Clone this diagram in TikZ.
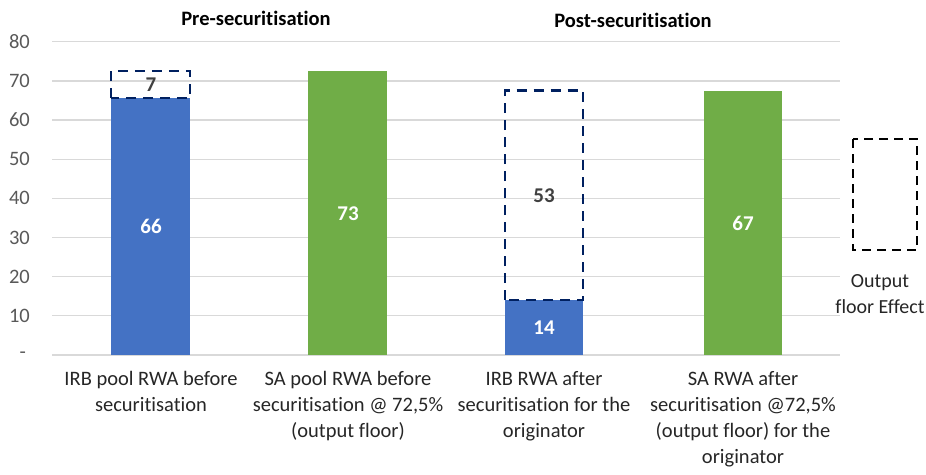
\documentclass[tikz,border=0pt]{standalone}
\usepackage{fontspec}
\setmainfont{Carlito}[RawFeature={-liga}]
\definecolor{barblue}{HTML}{4472C4}
\definecolor{bargreen}{HTML}{70AD47}
\definecolor{navy}{HTML}{002060}
\definecolor{gridgray}{HTML}{D9D9D9}
\definecolor{ticktext}{HTML}{595959}
\definecolor{valtext}{HTML}{404040}
\begin{document}
\begin{tikzpicture}[x=1pt,y=-1pt,
  grid/.style={gridgray,line width=1.3pt},
  ticklab/.style={anchor=east,text=ticktext,font=\fontsize{20.5}{20.5}\selectfont,inner sep=0pt},
  catlab/.style={align=center,text=black!85,font=\fontsize{20.5}{26}\selectfont,anchor=north,inner sep=0pt},
  heading/.style={font=\bfseries\fontsize{20.5}{22}\selectfont,inner sep=0pt},
  inbar/.style={text=white,font=\bfseries\fontsize{21}{21}\selectfont,inner sep=0pt},
  boxval/.style={text=valtext,font=\bfseries\fontsize{21}{21}\selectfont,inner sep=0pt},
  floorbox/.style={navy,line width=2.6pt,dash pattern=on 10pt off 7pt},
  legendbox/.style={black,line width=2.6pt,dash pattern=on 9pt off 6pt}]
\useasboundingbox (0,0) rectangle (926,474);
% value v sits at y = 355 - 3.916 v
\def\yv#1{355-3.916*#1}
% horizontal gridlines and tick labels
\foreach \v/\t in {10/10,20/20,30/30,40/40,50/50,60/60,70/70,80/80}{
  \draw[grid] (52,{\yv{\v}}) -- (840,{\yv{\v}});
  \node[ticklab] (tick\v) at (30,{\yv{\v}}) {\t};
}
\draw[grid] (52,355) -- (840,355);
\node[ticklab] (tick0) at (26,355) {-};
% bars
\fill[barblue] (111,{\yv{65.6}}) rectangle (190,355);
\fill[bargreen] (308,{\yv{72.5}}) rectangle (387,355);
\fill[barblue] (505,{\yv{14}}) rectangle (583,355);
\fill[bargreen] (704,{\yv{67.3}}) rectangle (782,355);
% output floor add-ons
\draw[floorbox] (111,{\yv{65.6}}) rectangle (190,{\yv{72.5}});
\draw[floorbox] (505,{\yv{14}}) rectangle (583,{\yv{67.5}});
% values
\node[inbar] (v1) at (151,{\yv{32.8}}) {66};
\node[inbar] (v2) at (348,{\yv{36.2}}) {73};
\node[inbar] (v3) at (544,{\yv{7}}) {14};
\node[inbar] (v4) at (743,{\yv{33.6}}) {67};
\node[boxval] (d1) at (151,{\yv{69.1}}) {7};
\node[boxval] (d3) at (544,{\yv{40.8}}) {53};
% headings
\node[heading] (pre) at (256,18) {Pre-securitisation};
\node[heading] (post) at (633,20) {Post-securitisation};
% category labels
\node[catlab] (c1) at (151,371) {IRB pool RWA before\\securitisation};
\node[catlab] (c2) at (348,371) {SA pool RWA before\\securitisation @ 72,5\%\\(output floor)};
\node[catlab] (c3) at (544,371) {IRB RWA after\\securitisation for the\\originator};
\node[catlab] (c4) at (743,371) {SA RWA after\\securitisation @72,5\%\\(output floor) for the\\originator};
% legend
\draw[legendbox] (853,139) rectangle (917,250);
\node[catlab,font=\fontsize{20}{26}\selectfont] (leg) at (880,274) {Output\\floor Effect};
\end{tikzpicture}
\end{document}
